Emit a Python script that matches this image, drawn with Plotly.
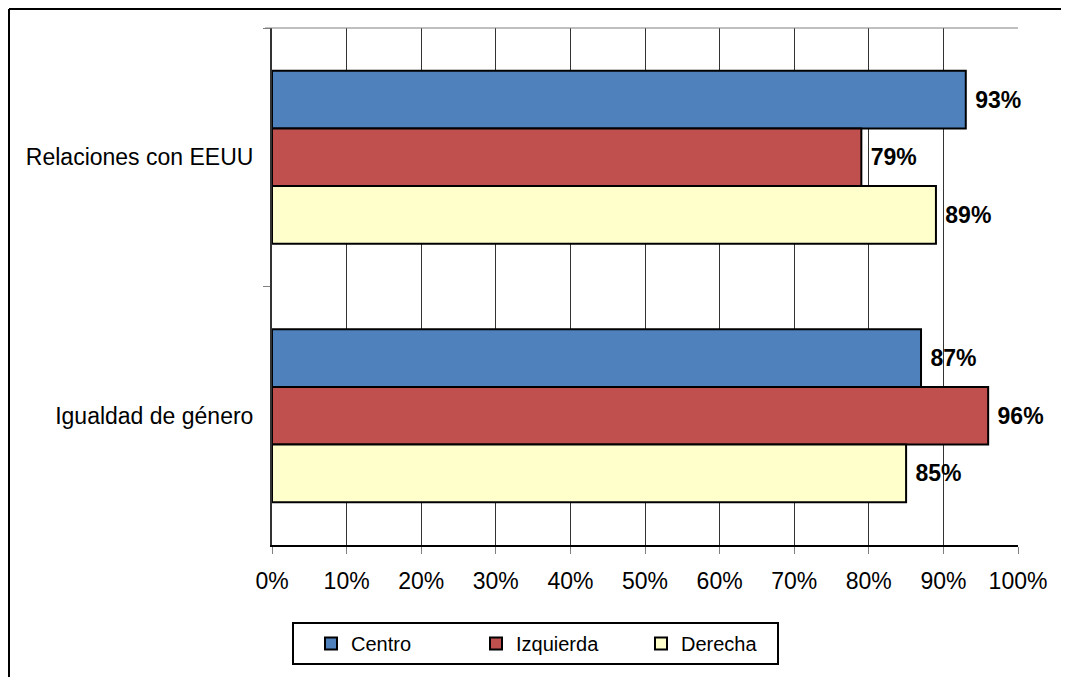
import plotly.graph_objects as go

categories = ["Relaciones con EEUU", "Igualdad de género"]
series_names = ["Centro", "Izquierda", "Derecha"]
centro = [93, 87]
izquierda = [79, 96]
derecha = [89, 85]
x_tick_vals = [0, 10, 20, 30, 40, 50, 60, 70, 80, 90, 100]
x_tick_text = ["0%", "10%", "20%", "30%", "40%", "50%", "60%", "70%", "80%", "90%", "100%"]

colors = ["#4F81BD", "#C0504D", "#FFFFCC"]
FONT = "Liberation Sans, Arial, sans-serif"

# page has an 8px body margin: work in screenshot coordinates and shift
O = 8
W, H = 1069 - O, 677 - O
plot_left, plot_right, plot_top, plot_bottom = 272, 1018, 28, 545
L = plot_left - O
R = W - (plot_right - O)
T = plot_top - O
B = H - (plot_bottom - O)
pw, ph = W - L - R, H - T - B


def px_x(x):
    return (x - plot_left) / pw


def px_y(y):
    return (plot_bottom - y) / ph


fig = go.Figure()
for name, vals, col in zip(series_names, [centro, izquierda, derecha], colors):
    fig.add_trace(go.Bar(
        y=categories, x=vals, name=name, orientation="h",
        marker=dict(color=col, line=dict(color="black", width=2)),
        texttemplate="\u00a0%{x}%", textposition="outside",
        textfont=dict(family=FONT, size=23, color="black", weight="bold"),
        cliponaxis=False, hoverinfo="skip",
    ))

fig.update_layout(
    width=W, height=H,
    margin=dict(l=L, r=R, t=T, b=B, autoexpand=False),
    paper_bgcolor="white", plot_bgcolor="white",
    barmode="group", bargap=0.33, bargroupgap=0,
    font=dict(family=FONT, size=23, color="black"),
    showlegend=True,
    legend=dict(
        orientation="h", x=px_x(311), xanchor="left", y=px_y(643.5), yanchor="middle",
        bgcolor="rgba(0,0,0,0)", borderwidth=0,
        font=dict(family=FONT, size=20, color="black"),
        entrywidth=120, entrywidthmode="pixels",
        itemclick=False, itemdoubleclick=False,
    ),
    xaxis=dict(
        range=[0, 100], tickvals=x_tick_vals, ticktext=x_tick_text,
        showgrid=True, gridcolor="#333333", gridwidth=1,
        showline=True, linecolor="black", linewidth=2,
        ticks="outside", ticklen=7, tickcolor="#808080", tickwidth=1,
        ticklabelstandoff=7, zeroline=False, fixedrange=True,
    ),
    yaxis=dict(
        categoryorder="array", categoryarray=categories, autorange="reversed",
        showgrid=False, showline=True, linecolor="#333333", linewidth=2,
        ticks="outside", tickson="boundaries", ticklen=7, tickcolor="#808080",
        tickwidth=1, ticklabelstandoff=12, fixedrange=True,
    ),
    shapes=[
        dict(type="line", xref="paper", yref="paper", x0=px_x(265), x1=1, y0=1, y1=1,
             line=dict(color="#808080", width=1)),
        dict(type="line", xref="paper", yref="paper", x0=px_x(9), x1=px_x(9),
             y0=px_y(700), y1=px_y(9), line=dict(color="black", width=2), layer="below"),
        dict(type="line", xref="paper", yref="paper", x0=px_x(9), x1=px_x(1100),
             y0=px_y(9), y1=px_y(9), line=dict(color="black", width=2), layer="below"),
        dict(type="rect", xref="paper", yref="paper", x0=px_x(293), x1=px_x(778),
             y0=px_y(664), y1=px_y(623), line=dict(color="black", width=2),
             fillcolor="white", layer="below"),
    ],
)

fig.write_html("out.html", config={"displayModeBar": False})
